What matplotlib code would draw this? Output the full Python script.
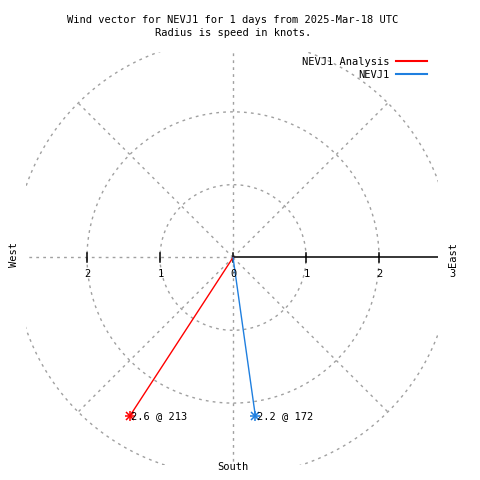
import numpy as np
import matplotlib
matplotlib.use("Agg")
import matplotlib.pyplot as plt
from matplotlib.lines import Line2D

# ---- data ----
series_names = ["NEVJ1 Analysis", "NEVJ1"]
speeds = [2.6, 2.2]          # knots
directions = [213, 172]      # degrees, clockwise from north
series_colors = ["#ff0000", "#1f7fdf"]
grid_radii = [1, 2, 3]
tick_values = [-2, -1, 0, 1, 2, 3]
tick_labels = ["2", "1", "0", "1", "2", "3"]
title_lines = ["Wind vector for NEVJ1 for 1 days from 2025-Mar-18 UTC",
               "Radius is speed in knots."]

plt.rcParams["font.family"] = ["DejaVu Sans Mono"]
FS = 7.5

fig = plt.figure(figsize=(4.8, 4.8), dpi=100)
ax = fig.add_axes([26 / 480, 1 - 465 / 480, 412 / 480, 413 / 480])
ax.set_xlim(-2.836, 2.808)
ax.set_ylim(-2.85, 2.822)
ax.axis("off")

gray = "#a0a0a0"
dash = (0, (2, 3))
rmax = max(grid_radii)
th = np.linspace(0, 2 * np.pi, 721)
for r in grid_radii:
    ax.plot(r * np.cos(th), r * np.sin(th), color=gray, lw=1, linestyle=dash)
for ang in range(0, 360, 45):
    if ang == 0:
        continue
    a = np.deg2rad(ang)
    ax.plot([0, rmax * np.cos(a)], [0, rmax * np.sin(a)], color=gray, lw=1, linestyle=dash)

# r axis (black) toward east
ax.plot([0, ax.get_xlim()[1]], [0, 0], color="black", lw=1.1)

# ticks
for t, lab in zip(tick_values, tick_labels):
    if t <= ax.get_xlim()[1]:
        ax.plot([t, t], [-0.062, 0.062], color="black", lw=1.1)
    ax.annotate(lab, xy=(t, 0), xytext=(0.5, -12), textcoords="offset points",
                ha="center", va="center", fontsize=FS, annotation_clip=False)

# compass labels
ax.text(-3.0, 0.04, "West", rotation=90, ha="center", va="center", fontsize=FS, clip_on=False)
ax.text(3.01, 0.04, "East", rotation=90, ha="center", va="center", fontsize=FS, clip_on=False)
ax.text(0, -2.88, "South", ha="center", va="center", fontsize=FS, clip_on=False)

# wind vectors
handles = []
for name, s, d, c in zip(series_names, speeds, directions, series_colors):
    a = np.deg2rad(d)
    x, y = s * np.sin(a), s * np.cos(a)
    ax.plot([0, x], [0, y], color=c, lw=1)
    ax.plot([x], [y], marker="+", color=c, ms=7, mew=1.1, clip_on=False)
    ax.plot([x], [y], marker="x", color=c, ms=5.5, mew=1.1, clip_on=False)
    ax.annotate(f"{s} @ {d}", xy=(x, y), xytext=(1.2, 0), textcoords="offset points",
                ha="left", va="center", fontsize=FS, annotation_clip=False)
    handles.append(Line2D([0], [0], color=c, lw=1.5, label=name))

leg = fig.legend(handles=handles, loc="upper right", bbox_to_anchor=(427 / 480, 1 - 57 / 480),
                 frameon=False, markerfirst=False, fontsize=FS, handlelength=3.0,
                 handletextpad=0.6, labelspacing=0.3, borderpad=0, borderaxespad=0)

fig.text(233 / 480, 1 - 20 / 480, title_lines[0], ha="center", va="center", fontsize=FS)
fig.text(233 / 480, 1 - 33 / 480, title_lines[1], ha="center", va="center", fontsize=FS)

fig.savefig("out.png", dpi=100)
